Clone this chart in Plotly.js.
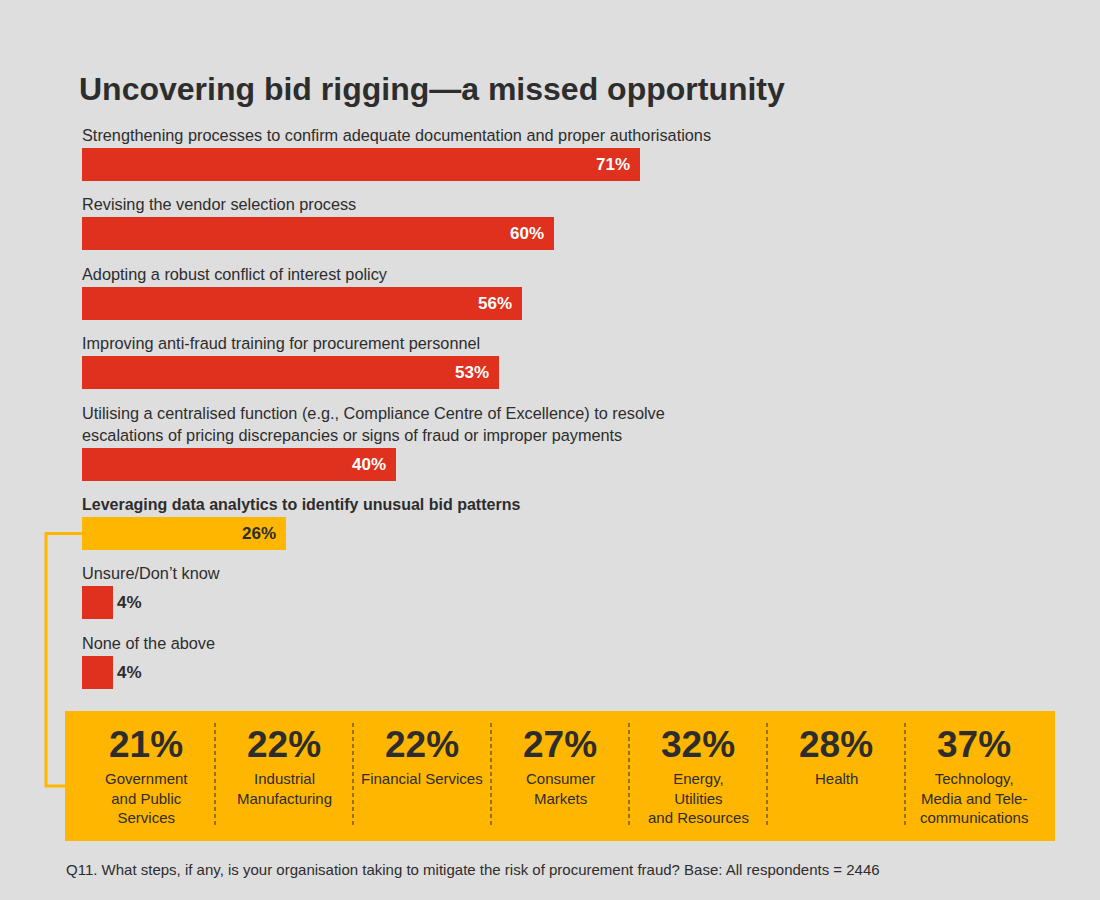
<!DOCTYPE html>
<html>
<head>
<meta charset="utf-8">
<script src="https://cdn.plot.ly/plotly-3.0.1.min.js"></script>
<style>
  html, body { margin: 0; padding: 0; background: #dedede; }
  #chart { width: 1100px; height: 900px; }
</style>
</head>
<body>
<div id="chart"></div>
<script>
// ---- Data ----
const chartTitle = 'Uncovering bid rigging\u2014a missed opportunity';
const steps = [
  'Strengthening processes to confirm adequate documentation and proper authorisations',
  'Revising the vendor selection process',
  'Adopting a robust conflict of interest policy',
  'Improving anti-fraud training for procurement personnel',
  'Utilising a centralised function (e.g., Compliance Centre of Excellence) to resolve<br>escalations of pricing discrepancies or signs of fraud or improper payments',
  'Leveraging data analytics to identify unusual bid patterns',
  'Unsure/Don\u2019t know',
  'None of the above'
];
const stepValues = [71, 60, 56, 53, 40, 26, 4, 4];
const highlightStep = 'Leveraging data analytics to identify unusual bid patterns';

const industries = [
  'Government<br>and Public<br>Services',
  'Industrial<br>Manufacturing',
  'Financial Services',
  'Consumer<br>Markets',
  'Energy,<br>Utilities<br>and Resources',
  'Health',
  'Technology,<br>Media and Tele-<br>communications'
];
const industryValues = [21, 22, 22, 27, 32, 28, 37];

const footnote = 'Q11. What steps, if any, is your organisation taking to mitigate the risk of procurement fraud? Base: All respondents = 2446';

// ---- Layout constants (pixels) ----
const W = 1100, H = 900;
const X0 = 82;          // pixel of 0%
const PX_PER_PCT = 7.86;
const RED = '#e0301e', GOLD = '#ffb600', DARK = '#2d2d2d';
const FONT = 'Liberation Sans, Arial, Helvetica, sans-serif';
const BAR_H = 33, FIRST_C = 164.5, STEP = 69.4, LINE_H = 22;

const px = p => (p - X0) / PX_PER_PCT; // pixel x -> data x

// bar centres computed from label line counts
const lineCounts = steps.map(s => s.split('<br>').length);
const centers = [];
steps.forEach((s, i) => {
  if (i === 0) centers.push(FIRST_C);
  else centers.push(centers[i - 1] + STEP + LINE_H * (lineCounts[i] - 1));
});
const colors = steps.map(s => s === highlightStep ? GOLD : RED);

const trace = {
  type: 'bar',
  orientation: 'h',
  x: stepValues,
  y: centers,
  width: BAR_H,
  base: 0,
  marker: { color: colors, line: { width: 0 } },
  hoverinfo: 'skip'
};

const annotations = [];
const shapes = [];

// title
annotations.push({
  text: '<b>' + chartTitle + '</b>', x: px(77), y: 89, xref: 'x', yref: 'y',
  xanchor: 'left', yanchor: 'middle', showarrow: false,
  font: { family: FONT, size: 32, color: DARK }
});

// step labels and values
steps.forEach((s, i) => {
  const lines = s.split('<br>');
  const top = centers[i] - BAR_H / 2;
  const hl = s === highlightStep;
  lines.forEach((ln, k) => {
    annotations.push({
      text: hl ? '<b>' + ln + '</b>' : ln,
      x: px(80), y: top - 13 - LINE_H * (lines.length - 1 - k),
      xref: 'x', yref: 'y', xanchor: 'left', yanchor: 'middle', showarrow: false,
      font: { family: FONT, size: hl ? 16 : 16.3, color: DARK }
    });
  });
  const v = stepValues[i];
  const inside = v >= 10;
  annotations.push({
    text: '<b>' + v + '%</b>',
    x: v, y: centers[i], xref: 'x', yref: 'y',
    xanchor: inside ? 'right' : 'left', yanchor: 'middle',
    xshift: inside ? -8 : 2, showarrow: false,
    font: { family: FONT, size: 17, color: (inside && !hl) ? '#ffffff' : DARK }
  });
});

// highlight box
const BOX = { x0: 65, x1: 1055, y0: 711, y1: 841 };
const hlIdx = steps.indexOf(highlightStep);
shapes.push({
  type: 'path', xref: 'x', yref: 'y',
  path: `M ${px(X0)} ${centers[hlIdx]} L ${px(46)} ${centers[hlIdx]} L ${px(46)} 786 L ${px(BOX.x0)} 786`,
  line: { color: GOLD, width: 3 }, layer: 'below'
});
shapes.push({
  type: 'rect', xref: 'x', yref: 'y',
  x0: px(BOX.x0), x1: px(BOX.x1), y0: BOX.y0, y1: BOX.y1,
  fillcolor: GOLD, line: { width: 0 }, layer: 'below'
});
const COL_L = 77, COL_W = 138;
industries.forEach((name, i) => {
  const cx = COL_L + COL_W * (i + 0.5);
  if (i > 0) {
    shapes.push({
      type: 'line', xref: 'x', yref: 'y',
      x0: px(COL_L + COL_W * i), x1: px(COL_L + COL_W * i), y0: 723, y1: 828,
      line: { color: DARK, width: 1, dash: '4px,3px' }
    });
  }
  annotations.push({
    text: '<b>' + industryValues[i] + '%</b>', x: px(cx), y: 744, xref: 'x', yref: 'y',
    xanchor: 'center', yanchor: 'middle', showarrow: false,
    font: { family: FONT, size: 37, color: DARK }
  });
  annotations.push({
    text: name, x: px(cx), y: 768, xref: 'x', yref: 'y',
    xanchor: 'center', yanchor: 'top', align: 'center', showarrow: false,
    font: { family: FONT, size: 15, color: DARK }
  });
});

// footnote
annotations.push({
  text: footnote, x: px(64), y: 869, xref: 'x', yref: 'y',
  xanchor: 'left', yanchor: 'middle', showarrow: false,
  font: { family: FONT, size: 15, color: DARK }
});

const layout = {
  width: W, height: H,
  margin: { l: 0, r: 0, t: 0, b: 0, pad: 0 },
  paper_bgcolor: '#dedede', plot_bgcolor: '#dedede',
  showlegend: false,
  xaxis: { range: [px(0), px(W)], visible: false, fixedrange: true },
  yaxis: { range: [H, 0], visible: false, fixedrange: true },
  bargap: 0,
  annotations: annotations,
  shapes: shapes
};

Plotly.newPlot('chart', [trace], layout, { displayModeBar: false, staticPlot: true });
</script>
</body>
</html>
